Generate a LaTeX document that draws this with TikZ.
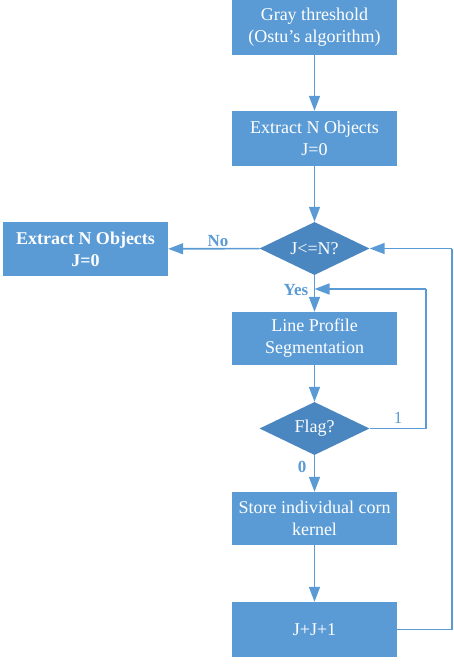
\documentclass[tikz,border=0pt]{standalone}
\usepackage{fontspec}
\setmainfont{Liberation Serif}
\usetikzlibrary{shapes.geometric,arrows.meta}
\definecolor{boxblue}{HTML}{5B9BD5}
\definecolor{diablue}{HTML}{4A86BF}
\definecolor{lineblue}{HTML}{5B9BD5}
\tikzset{
  procbox/.style={rectangle, fill=boxblue, text=white, minimum width=165pt, minimum height=54pt, inner sep=0pt, align=center, font=\fontsize{18}{22}\selectfont},
  decide/.style={diamond, fill=diablue, text=white, minimum width=110pt, minimum height=53pt, inner sep=0pt, aspect=2, font=\fontsize{18}{22}\selectfont},
  conn/.style={draw=lineblue, line width=1.6pt, -{Triangle[length=15pt,width=11pt]}},
  plain/.style={draw=lineblue, line width=1.6pt},
  lbl/.style={text=lineblue, font=\fontsize{17}{20}\selectfont\bfseries, inner sep=0pt}
}
\begin{document}
\begin{tikzpicture}[x=1pt,y=-1pt]
\useasboundingbox (0,0) rectangle (454,664);
\node[procbox, minimum height=56pt] (b1) at (314.5,27) {Gray threshold\\(Ostu’s algorithm)};
\node[procbox, minimum height=55pt] (b2) at (314.5,138.5) {Extract N Objects\\J=0};
\node[decide] (d1) at (314.5,248.5) {J<=N?};
\node[procbox, font=\fontsize{18}{22}\selectfont\bfseries] (lb) at (85.5,249) {Extract N Objects\\J=0};
\node[procbox, minimum height=53pt] (b3) at (314.5,338.5) {Line Profile\\Segmentation};
\node[decide] (d2) at (314.5,428.5) {Flag?};
\node[procbox, minimum height=53pt] (b4) at (314.5,518.5) {Store individual corn\\kernel};
\node[procbox, minimum height=55pt] (b5) at (314.5,629.5) {J+J+1};
\coordinate (yesin) at (314.5,289);
\coordinate (c1) at (426,428.5);
\coordinate (c2) at (426,289);
\coordinate (c3) at (452,629.5);
\coordinate (c4) at (452,248.5);
\draw[conn] (b1) -- (b2);
\draw[conn] (b2) -- (d1);
\draw[conn] (d1) -- (lb);
\draw[conn] (d1) -- (b3);
\draw[conn] (b3) -- (d2);
\draw[conn] (d2) -- (b4);
\draw[conn] (b4) -- (b5);
\draw[plain] (d2.east) -- (c1) -- (c2);
\draw[conn] (c2) -- (yesin);
\draw[plain] (b5.east) -- (c3) -- (c4);
\draw[conn] (c4) -- (d1.east);
\node[lbl] (lno) at (218,241) {No};
\node[lbl] (lyes) at (296,290) {Yes};
\node[lbl] (lzero) at (302,467) {0};
\node[lbl, font=\fontsize{17}{20}\selectfont] (lone) at (398,418) {1};
\end{tikzpicture}
\end{document}
